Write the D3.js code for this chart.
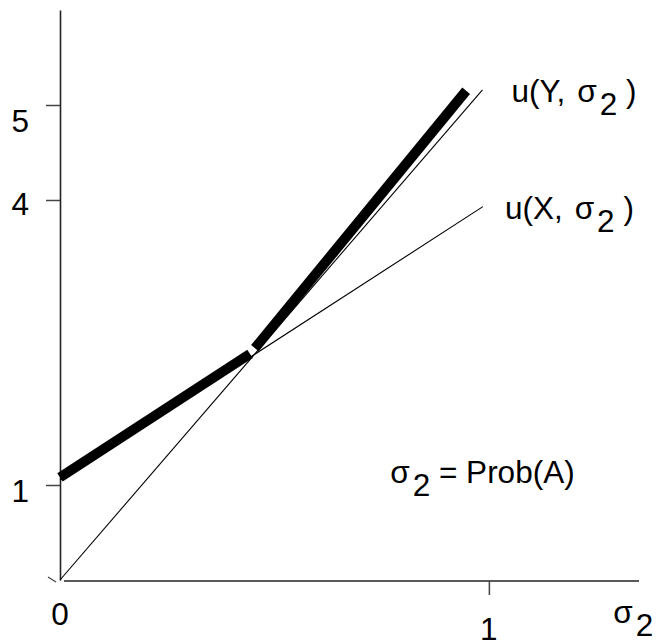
<!DOCTYPE html>
<html>
<head>
<meta charset="utf-8">
<script src="https://cdn.jsdelivr.net/npm/d3@7"></script>
<style>
  body { margin: 0; background: #fff; }
  svg text { font-family: Arial, "Liberation Sans", sans-serif; fill: #000; }
</style>
</head>
<body>
<div id="chart"></div>
<script>
// values
const sigmaTicks = [0, 1];
const utilTicks = [1, 4, 5];
const uYLine = [[0, 0], [0.985, 5.16]];
const uXLine = [[0, 1.05], [0.986, 3.93]];
const thickLow = [[0, 1.08], [0.443, 2.38]];
const thickHigh = [[0.4545, 2.44], [0.947, 5.15]];

const width = 659, height = 640;
const fs = 31.5;

const svg = d3.select("#chart").append("svg")
    .attr("width", width)
    .attr("height", height);

// scales
const x = d3.scaleLinear().domain([0, 1.35]).range([60, 639]);
const y = d3.scaleLinear().domain([0, 6]).range([580, 10]);

const line = d3.line()
    .x(d => x(d[0]))
    .y(d => y(d[1]));

// y axis
const yAxis = svg.append("g")
    .attr("transform", "translate(" + x(0) + ",0)")
    .call(d3.axisLeft(y).tickValues(utilTicks).tickSize(14).tickSizeOuter(0).tickFormat(""));
yAxis.select(".domain").attr("stroke", "#222").attr("stroke-width", 1.6);
yAxis.selectAll(".tick line").attr("stroke", "#444").attr("stroke-width", 1.5);

// x axis
const xAxis = svg.append("g")
    .attr("transform", "translate(0," + (y(0) + 1) + ")")
    .call(d3.axisBottom(x).tickValues([1]).tickSize(14).tickSizeOuter(0).tickFormat(""));
xAxis.select(".domain").attr("stroke", "#222").attr("stroke-width", 1.6)
    .attr("d", "M" + (x(0) + 4) + ",0H" + x(1.35));
xAxis.selectAll(".tick line").attr("stroke", "#444").attr("stroke-width", 1.5);

// little mark at the origin
svg.append("line")
    .attr("x1", x(0) - 12).attr("y1", y(0) - 3)
    .attr("x2", x(0) - 4).attr("y2", y(0) + 2)
    .attr("stroke", "#444").attr("stroke-width", 1.3);

// tick labels
const yNudge = {1: 17, 4: 15, 5: 27};
svg.selectAll(".ylab")
    .data(utilTicks)
    .enter().append("text")
    .attr("class", "ylab")
    .attr("x", x(0) - 31)
    .attr("y", d => y(d) + yNudge[d])
    .attr("text-anchor", "end")
    .attr("font-size", fs)
    .text(d => d);

const xNudge = {0: 45, 1: 60};
svg.selectAll(".xlab")
    .data(sigmaTicks)
    .enter().append("text")
    .attr("class", "xlab")
    .attr("x", d => x(d))
    .attr("y", d => y(0) + xNudge[d])
    .attr("text-anchor", "middle")
    .attr("font-size", fs)
    .text(d => d);

// thin lines
[uYLine, uXLine].forEach(d => {
    svg.append("path")
        .datum(d)
        .attr("fill", "none")
        .attr("stroke", "#000")
        .attr("stroke-width", 1.1)
        .attr("d", line);
});

// thick envelope
[thickLow, thickHigh].forEach(d => {
    svg.append("path")
        .datum(d)
        .attr("fill", "none")
        .attr("stroke", "#000")
        .attr("stroke-width", 10)
        .attr("stroke-linecap", "butt")
        .attr("d", line);
});

// label helper: leading text, sigma, subscript 2, closing part
function sigmaLabel(px, py, before, gap, after) {
    const t = svg.append("text")
        .attr("x", px).attr("y", py)
        .attr("font-size", fs)
        .attr("xml:space", "preserve")
        .style("white-space", "pre");
    if (before) t.append("tspan").text(before);
    t.append("tspan").attr("dx", gap).text("σ");
    t.append("tspan").attr("dx", 3).attr("dy", 13).text("2");
    if (after) t.append("tspan").attr("dx", 0).attr("dy", -13).text(after);
    return t;
}

const endY = uYLine[uYLine.length - 1];
const endX = uXLine[uXLine.length - 1];
sigmaLabel(x(endY[0]) + 29, y(endY[1]) + 12, "u(Y,", 12, " )");
sigmaLabel(x(endX[0]) + 22, y(endX[1]) + 12, "u(X,", 12, " )");

// note and axis title
sigmaLabel(x(0.77), y(1.02), null, 0, " = Prob(A)");
sigmaLabel(x(1.29), y(0) + 43, null, 0, null);
</script>
</body>
</html>
